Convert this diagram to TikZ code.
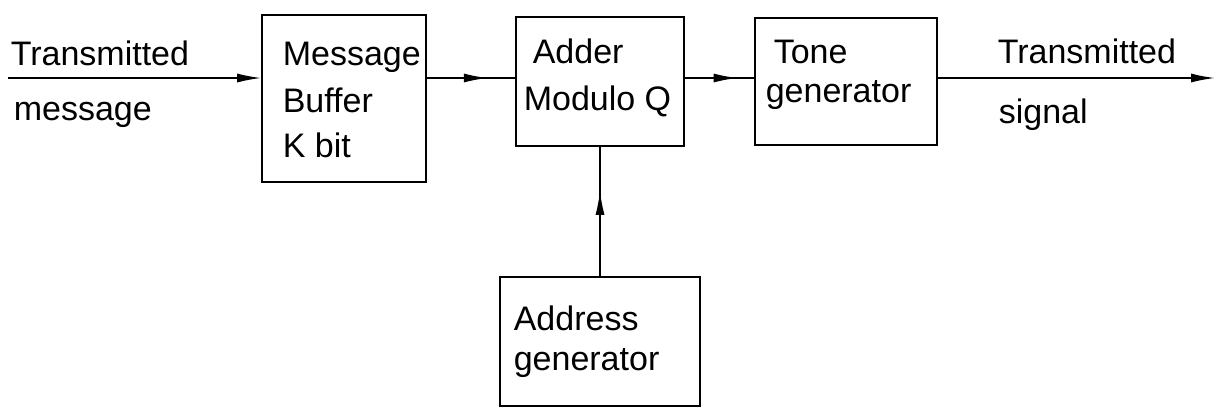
\documentclass[tikz,border=0pt]{standalone}
\usepackage{fontspec}
\setmainfont{Liberation Sans}
\usetikzlibrary{arrows.meta,decorations.markings}

\begin{document}
\begin{tikzpicture}[x=1pt,y=-1pt,
  line width=1.6pt,
  tip/.tip={Latex[length=24pt,width=9pt]},
  blockbox/.style={draw,rectangle,inner sep=0pt},
  lbl/.style={anchor=base west,inner sep=0pt,font=\fontsize{34}{40}\selectfont},
  midarrow/.style={postaction={decorate},
    decoration={markings,mark=at position #1 with {\arrow{tip}}}}]
\useasboundingbox (0,0) rectangle (1220,408);

% blocks
\node[blockbox,minimum width=164pt,minimum height=167pt] (buf)  at (344,98.5) {};
\node[blockbox,minimum width=168pt,minimum height=129pt] (add)  at (600,81.5) {};
\node[blockbox,minimum width=182pt,minimum height=127pt] (tone) at (846,81.5) {};
\node[blockbox,minimum width=200pt,minimum height=129pt] (addr) at (600,341.5) {};

% free ends of the signal path
\coordinate (in)  at (8,78);
\coordinate (out) at (1215,78);

% block labels
\node[lbl] (t1) at (282,65)  {Message};
\node[lbl] (t2) at (282,112) {Buffer};
\node[lbl] (t3) at (282,157) {K bit};
\node[lbl] (t4) at (532,63)  {Adder};
\node[lbl] (t5) at (523,110) {Modulo Q};
\node[lbl] (t6) at (773,63)  {Tone};
\node[lbl] (t7) at (765,102) {generator};
\node[lbl] (t8) at (513,330) {Address};
\node[lbl] (t9) at (513,370) {generator};

% line labels
\node[lbl] (i1) at (10,65)   {Transmitted};
\node[lbl] (i2) at (13,120)  {message};
\node[lbl] (o1) at (997,63)  {Transmitted};
\node[lbl] (o2) at (998,123) {signal};

% connectors
\draw[-tip] (in) -- (in -| buf.west);
\draw[midarrow=0.69] (buf.east |- in) -- (add.west |- in);
\draw[midarrow=0.76] (add.east |- in) -- (tone.west |- in);
\draw[-tip] (tone.east |- out) -- (out);
\draw[midarrow=0.66] (addr.north) -- (add.south);
\end{tikzpicture}
\end{document}
